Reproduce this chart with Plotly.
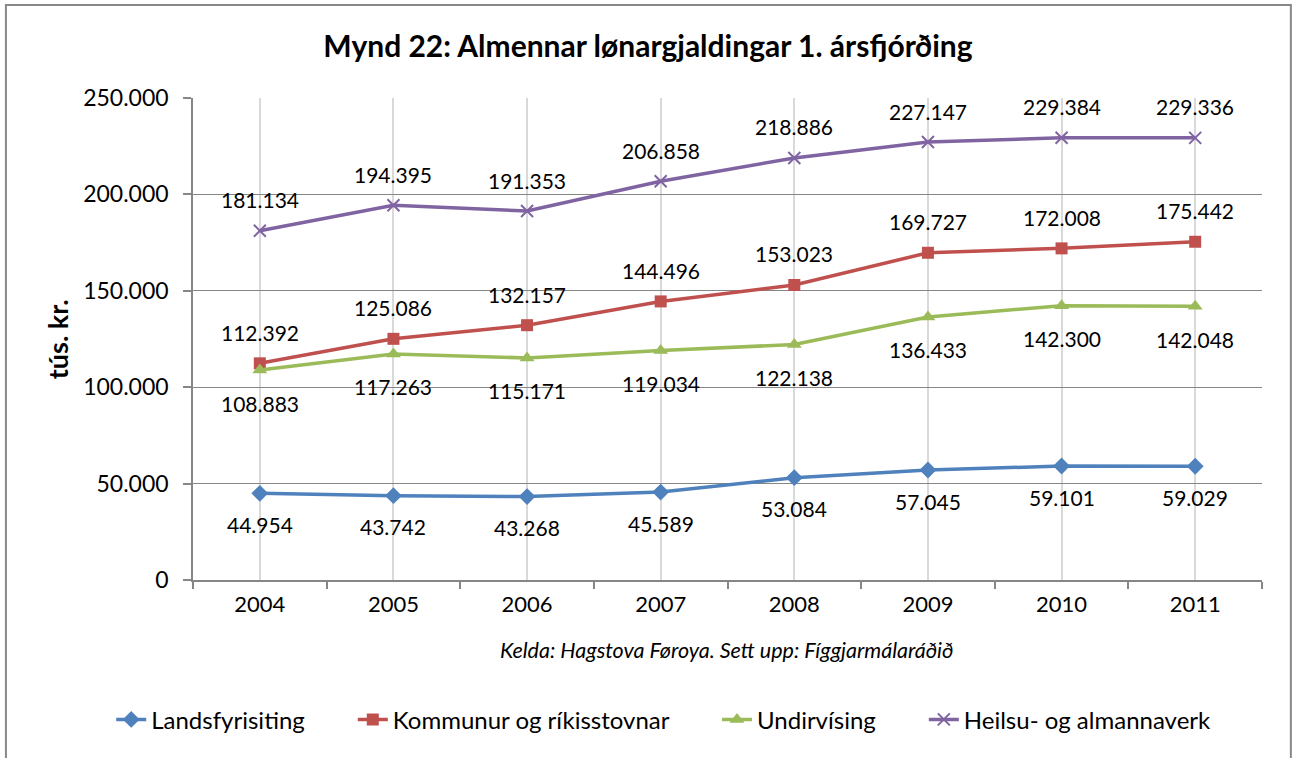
import plotly.graph_objects as go

years = ["2004", "2005", "2006", "2007", "2008", "2009", "2010", "2011"]
landsfyrisiting = [44954, 43742, 43268, 45589, 53084, 57045, 59101, 59029]
kommunur = [112392, 125086, 132157, 144496, 153023, 169727, 172008, 175442]
undirvising = [108883, 117263, 115171, 119034, 122138, 136433, 142300, 142048]
heilsu = [181134, 194395, 191353, 206858, 218886, 227147, 229384, 229336]
y_ticks = [0, 50000, 100000, 150000, 200000, 250000]

FONT = "Lato"
x = list(range(len(years)))
PAD = "\u00a0" * 7

series = [
    ("Landsfyrisiting" + PAD, landsfyrisiting, "#4F81BD", "diamond", 13, -31),
    ("Kommunur og ríkisstovnar" + PAD, kommunur, "#C0504D", "square", 12, 31),
    ("Undirvísing" + PAD, undirvising, "#9BBB59", "triangle-up", 13, -33),
    ("Heilsu- og almannaverk", heilsu, "#8064A2", "x-thin-open", 12, 31),
]

fig = go.Figure()
annotations = []
for name, vals, color, sym, msize, shift in series:
    fig.add_trace(go.Scatter(
        x=x, y=vals, name=name, mode="lines+markers",
        line=dict(color=color, width=3.5),
        marker=dict(symbol=sym, size=msize, color=color,
                    line=dict(color=color, width=2 if sym.startswith("x") else 0)),
    ))
    for xi, v in zip(x, vals):
        annotations.append(dict(
            x=xi, y=v, xref="x", yref="y", text=f"{v:,}".replace(",", "."),
            showarrow=False, yshift=shift, font=dict(family=FONT, size=21, color="#000000"),
        ))

annotations.append(dict(
    x=-0.127, y=0.5, xref="paper", yref="paper", xanchor="center", yanchor="middle",
    text="<b>tús. kr.</b>",
    textangle=-90, showarrow=False, font=dict(family=FONT, size=27, color="#000000"),
))
annotations.append(dict(
    x=0.4995, y=-0.145, xref="paper", yref="paper", xanchor="center", yanchor="middle",
    text="<i>Kelda: Hagstova Føroya. Sett upp: Fíggjarmálaráðið</i>",
    showarrow=False, font=dict(family=FONT, size=21.5, color="#000000"),
))

fig.update_layout(
    width=1298, height=758,
    margin=dict(l=193, r=36, t=98, b=178, autoexpand=False),
    paper_bgcolor="white", plot_bgcolor="white",
    separators=",.",
    title=dict(text="<b>Mynd 22: Almennar lønargjaldingar 1. ársfjórðing</b>",
               x=0.4992, xanchor="center", y=0.938, yanchor="middle",
               font=dict(family=FONT, size=30, color="#000000")),
    font=dict(family=FONT, color="#000000"),
    showlegend=True,
    legend=dict(orientation="h", x=-0.0765, xanchor="left", y=-0.29, yanchor="middle",
                font=dict(family=FONT, size=24, color="#000000"),
                bgcolor="rgba(0,0,0,0)"),
    annotations=annotations,
    shapes=[dict(type="rect", xref="paper", yref="paper",
                 x0=-0.175, x1=1.027, y0=-0.4, y1=1.193,
                 line=dict(color="#888888", width=2), layer="below")],
)

fig.update_xaxes(
    range=[-0.5, len(years) - 0.5], tickmode="array", tickvals=x, ticktext=years,
    showgrid=True, gridcolor="#D9D9D9", gridwidth=1.5,
    showline=True, linecolor="#868686", linewidth=1.5,
    ticks="", tickfont=dict(family=FONT, size=22, color="#000000"),
    ticklabelstandoff=4,
    minor=dict(ticks="outside", tick0=-0.5, dtick=1, ticklen=7, tickcolor="#868686",
               tickwidth=1.5, showgrid=False),
    zeroline=False, fixedrange=True,
)
fig.update_yaxes(
    range=[0, 250000], tickmode="array", tickvals=y_ticks,
    tickformat=",.0f", showgrid=True, gridcolor="#868686", gridwidth=1,
    showline=True, linecolor="#868686", linewidth=1.5,
    ticks="outside", ticklen=8, tickcolor="#868686", tickwidth=1.5,
    tickfont=dict(family=FONT, size=23, color="#000000"),
    ticklabelstandoff=10,
    zeroline=False, fixedrange=True,
)

fig.write_html("out.html", config={"displayModeBar": False},
               post_script="document.body.style.margin='0';")
